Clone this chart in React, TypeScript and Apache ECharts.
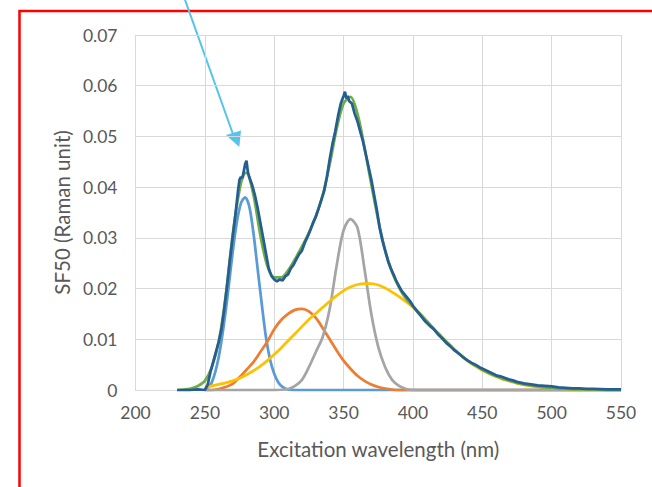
import React, { useEffect, useRef } from "react";
import * as echarts from "echarts";

// Component 1 (light blue)
const lightBlueWl = [250, 255, 260, 265, 270, 273, 276, 279, 282, 285, 288, 291, 294, 297, 300, 303, 306, 310, 315, 330, 350, 400, 450, 500, 550];
const lightBlueVal = [0, 0.0015, 0.0065, 0.0155, 0.027, 0.033, 0.0368, 0.038, 0.0362, 0.031, 0.024, 0.017, 0.0105, 0.006, 0.0032, 0.0015, 0.0006, 0.0001, 0, 0, 0, 0, 0, 0, 0];

// Component 2 (orange)
const orangeWl = [250, 255, 260, 265, 270, 275, 280, 285, 290, 295, 300, 305, 310, 315, 320, 325, 330, 335, 340, 345, 350, 355, 360, 365, 370, 375, 380, 385, 390, 400, 450, 500, 550];
const orangeVal = [0, 0, 0.0002, 0.0006, 0.0012, 0.0025, 0.004, 0.0055, 0.0075, 0.0095, 0.012, 0.0138, 0.015, 0.0158, 0.016, 0.0155, 0.0142, 0.0122, 0.01, 0.0078, 0.0058, 0.0042, 0.0028, 0.0018, 0.0011, 0.0006, 0.0003, 0.0001, 0, 0, 0, 0, 0];

// Component 3 (grey)
const greyWl = [250, 300, 310, 315, 320, 325, 330, 335, 340, 345, 350, 355, 360, 365, 370, 375, 380, 385, 390, 395, 400, 450, 500, 550];
const greyVal = [0, 0, 0.0002, 0.0008, 0.002, 0.0045, 0.0075, 0.0105, 0.016, 0.0245, 0.0315, 0.0337, 0.032, 0.024, 0.015, 0.0085, 0.0045, 0.002, 0.0008, 0.0002, 0, 0, 0, 0];

// Component 4 (yellow)
const yellowWl = [250, 255, 260, 265, 270, 275, 280, 285, 290, 295, 300, 305, 310, 315, 320, 325, 330, 335, 340, 345, 350, 355, 360, 365, 370, 375, 380, 385, 390, 395, 400, 405, 410, 415, 420, 425, 430, 435, 440, 445, 450, 455, 460, 465, 470, 475, 480, 485, 490, 495, 500, 510, 520, 530, 540, 550];
const yellowVal = [0.0005, 0.0008, 0.0011, 0.0014, 0.0018, 0.0023, 0.003, 0.0038, 0.0047, 0.0058, 0.007, 0.0083, 0.0097, 0.0111, 0.0125, 0.0139, 0.0151, 0.0163, 0.0175, 0.0186, 0.0196, 0.0203, 0.0208, 0.021, 0.021, 0.0207, 0.0201, 0.0193, 0.0184, 0.0174, 0.0163, 0.015, 0.0135, 0.012, 0.0106, 0.0092, 0.0079, 0.0067, 0.0056, 0.0047, 0.0039, 0.0032, 0.0026, 0.0021, 0.0017, 0.0013, 0.001, 0.0008, 0.0006, 0.0005, 0.0004, 0.0002, 0.0001, 0.0001, 0, 0];

// Fitted sum (green)
const fitWl = [230, 235, 240, 245, 250, 255, 260, 265, 270, 275, 278, 280, 285, 290, 295, 300, 305, 310, 315, 320, 325, 330, 335, 340, 345, 350, 355, 360, 365, 370, 375, 380, 385, 390, 395, 400, 405, 410, 415, 420, 425, 430, 435, 440, 445, 450, 455, 460, 465, 470, 475, 480, 485, 490, 495, 500, 510, 520, 530, 540, 550];
const fitVal = [0, 0.0001, 0.0003, 0.0008, 0.0018, 0.0045, 0.0095, 0.0185, 0.0305, 0.0395, 0.0425, 0.0428, 0.0385, 0.0305, 0.0245, 0.0222, 0.0222, 0.0236, 0.0258, 0.0283, 0.031, 0.0342, 0.0385, 0.0445, 0.0515, 0.0565, 0.0578, 0.0545, 0.048, 0.0405, 0.0335, 0.0275, 0.0232, 0.0202, 0.018, 0.0165, 0.0151, 0.0136, 0.0121, 0.0107, 0.0093, 0.008, 0.0068, 0.0057, 0.0048, 0.004, 0.0033, 0.0027, 0.0022, 0.0018, 0.0014, 0.0011, 0.0009, 0.0007, 0.0005, 0.0004, 0.0002, 0.0001, 0.0001, 0, 0];

// Measured spectrum (dark blue)
const measWl = [230, 235, 240, 245, 250, 252, 254, 256, 258, 260, 262, 264, 266, 268, 270, 272, 274, 275, 276, 277, 278, 279, 280, 281, 282, 284, 286, 288, 290, 292, 294, 296, 298, 300, 302, 304, 306, 308, 310, 312, 314, 316, 318, 320, 322, 324, 326, 328, 330, 332, 334, 336, 338, 340, 342, 344, 346, 348, 350, 351, 352, 353, 354, 356, 358, 360, 362, 364, 366, 368, 370, 372, 374, 376, 378, 380, 382, 384, 386, 388, 390, 392, 395, 398, 400, 403, 406, 409, 412, 415, 418, 421, 424, 427, 430, 433, 436, 439, 442, 445, 448, 451, 454, 457, 460, 463, 466, 469, 472, 475, 480, 485, 490, 495, 500, 505, 510, 515, 520, 525, 530, 540, 550];
const measVal = [0, 0, 0, 0.0001, 0, 0.001, 0.0035, 0.0055, 0.0075, 0.0095, 0.012, 0.016, 0.0205, 0.0255, 0.03, 0.0345, 0.0395, 0.0415, 0.042, 0.0418, 0.043, 0.0445, 0.0452, 0.043, 0.042, 0.0405, 0.0385, 0.036, 0.033, 0.03, 0.027, 0.024, 0.0225, 0.0218, 0.0214, 0.0218, 0.0216, 0.0224, 0.0228, 0.024, 0.0247, 0.0258, 0.0268, 0.0275, 0.029, 0.0302, 0.0315, 0.033, 0.0342, 0.0358, 0.0375, 0.0392, 0.042, 0.0455, 0.0485, 0.051, 0.054, 0.0565, 0.058, 0.0588, 0.0575, 0.058, 0.057, 0.0565, 0.0545, 0.053, 0.051, 0.049, 0.0465, 0.044, 0.0415, 0.0385, 0.0355, 0.032, 0.0295, 0.0275, 0.0255, 0.024, 0.0228, 0.0215, 0.0205, 0.0195, 0.0185, 0.0175, 0.0166, 0.0155, 0.0145, 0.0135, 0.0127, 0.012, 0.011, 0.0102, 0.0093, 0.0086, 0.0078, 0.0072, 0.0065, 0.0059, 0.0054, 0.005, 0.0045, 0.0041, 0.0037, 0.0033, 0.0029, 0.0027, 0.0024, 0.0021, 0.0019, 0.0016, 0.0013, 0.0011, 0.0009, 0.0008, 0.0007, 0.0005, 0.0004, 0.0003, 0.0003, 0.0002, 0.0002, 0.0001, 0.0001];

const xTitle = "Excitation wavelength (nm)";
const yTitle = "SF50 (Raman unit)";

const pairs = (wl: number[], v: number[]) => wl.map((w, i) => [w, v[i]]);

const FONT = "Lato, 'Open Sans', sans-serif";

export default function App() {
  const ref = useRef<HTMLDivElement>(null);
  useEffect(() => {
    if (!ref.current) return;
    const chart = echarts.init(ref.current, null, { renderer: "svg" });
    const line = (data: number[][], color: string, width: number, smooth: boolean | number) => ({
      type: "line",
      data,
      showSymbol: false,
      symbol: "none",
      smooth,
      lineStyle: { color, width },
      itemStyle: { color },
      z: 2,
    });
    chart.setOption({
      animation: false,
      backgroundColor: "#ffffff",
      grid: { left: 135.5, right: 31, top: 35, bottom: 97, containLabel: false },
      xAxis: {
        type: "value",
        min: 200,
        max: 550,
        interval: 50,
        name: xTitle,
        nameLocation: "middle",
        nameGap: 48,
        nameTextStyle: { color: "#595959", fontSize: 20.5, fontFamily: FONT },
        axisLine: { show: true, lineStyle: { color: "#D9D9D9", width: 1 } },
        axisTick: { show: false },
        axisLabel: { color: "#595959", fontSize: 17.5, fontFamily: FONT, margin: 13 },
        splitLine: { show: true, lineStyle: { color: "#D9D9D9", width: 1 } },
      },
      yAxis: {
        type: "value",
        min: 0,
        max: 0.07,
        interval: 0.01,
        name: yTitle,
        nameLocation: "middle",
        nameGap: 62,
        nameRotate: 90,
        nameTextStyle: { color: "#595959", fontSize: 20.5, fontFamily: FONT },
        axisLine: { show: false },
        axisTick: { show: false },
        axisLabel: {
          color: "#595959",
          fontSize: 17.5,
          fontFamily: FONT,
          margin: 18,
          formatter: (v: number) => (v === 0 ? "0" : v.toFixed(2)),
        },
        splitLine: { show: true, lineStyle: { color: "#D9D9D9", width: 1 } },
      },
      series: [
        line(pairs(lightBlueWl, lightBlueVal), "#5B9BD5", 2.75, 0.3),
        line(pairs(orangeWl, orangeVal), "#ED7D31", 2.75, 0.3),
        line(pairs(greyWl, greyVal), "#A5A5A5", 2.75, 0.3),
        line(pairs(yellowWl, yellowVal), "#FFC000", 2.75, 0.3),
        line(pairs(fitWl, fitVal), "#70AD47", 2.75, 0.3),
        line(pairs(measWl, measVal), "#255E91", 2.75, false),
      ],
      graphic: [
        {
          type: "rect",
          shape: { x: 19.5, y: 11, width: 700, height: 600 },
          style: { fill: "none", stroke: "#FF0000", lineWidth: 2.5 },
          silent: true,
        },
        {
          type: "line",
          shape: { x1: 184, y1: -3, x2: 234, y2: 137 },
          style: { stroke: "#56C3EA", lineWidth: 2 },
          silent: true,
        },
        {
          type: "polygon",
          shape: { points: [[239.3, 147], [226, 135], [241, 130.5]] },
          style: { fill: "#56C3EA" },
          silent: true,
        },
      ],
    });
    return () => chart.dispose();
  }, []);
  return (
    <div
      ref={ref}
      style={{ position: "fixed", left: 0, top: 0, width: 652, height: 487, background: "#fff" }}
    />
  );
}
